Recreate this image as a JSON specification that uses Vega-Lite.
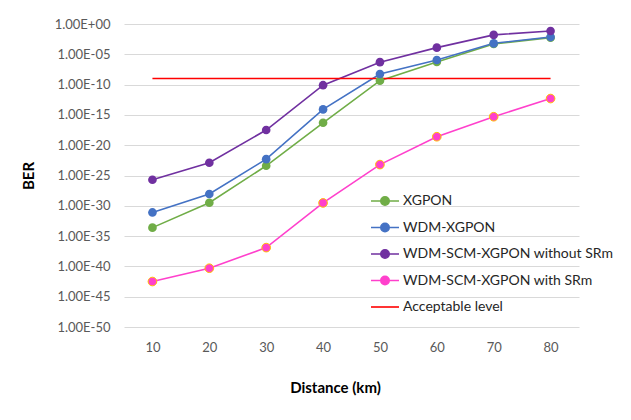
{
  "$schema": "https://vega.github.io/schema/vega-lite/v6.json",
  "width": 455,
  "height": 303,
  "autosize": {"type": "none"},
  "padding": {"left": 124, "top": 24, "right": 52, "bottom": 93},
  "background": "white",
  "config": {
    "view": {"stroke": null},
    "font": "Lato",
    "axis": {"labelFont": "Lato", "titleFont": "Lato"},
    "legend": {"labelFont": "Lato"}
  },
  "data": {
    "values": [
      {"series": "XGPON", "distance": 10, "ber": 2.5e-34},
      {"series": "XGPON", "distance": 20, "ber": 3.2e-30},
      {"series": "XGPON", "distance": 30, "ber": 4e-24},
      {"series": "XGPON", "distance": 40, "ber": 5e-17},
      {"series": "XGPON", "distance": 50, "ber": 4.5e-10},
      {"series": "XGPON", "distance": 60, "ber": 5.4e-7},
      {"series": "XGPON", "distance": 70, "ber": 5e-4},
      {"series": "XGPON", "distance": 80, "ber": 5.6e-3},
      {"series": "WDM-XGPON", "distance": 10, "ber": 8e-32},
      {"series": "WDM-XGPON", "distance": 20, "ber": 9e-29},
      {"series": "WDM-XGPON", "distance": 30, "ber": 5e-23},
      {"series": "WDM-XGPON", "distance": 40, "ber": 8e-15},
      {"series": "WDM-XGPON", "distance": 50, "ber": 5.6e-9},
      {"series": "WDM-XGPON", "distance": 60, "ber": 1.15e-6},
      {"series": "WDM-XGPON", "distance": 70, "ber": 6.5e-4},
      {"series": "WDM-XGPON", "distance": 80, "ber": 7e-3},
      {"series": "WDM-SCM-XGPON without SRm", "distance": 10, "ber": 2e-26},
      {"series": "WDM-SCM-XGPON without SRm", "distance": 20, "ber": 1.26e-23},
      {"series": "WDM-SCM-XGPON without SRm", "distance": 30, "ber": 3.2e-18},
      {"series": "WDM-SCM-XGPON without SRm", "distance": 40, "ber": 8e-11},
      {"series": "WDM-SCM-XGPON without SRm", "distance": 50, "ber": 5e-7},
      {"series": "WDM-SCM-XGPON without SRm", "distance": 60, "ber": 1.26e-4},
      {"series": "WDM-SCM-XGPON without SRm", "distance": 70, "ber": 1.6e-2},
      {"series": "WDM-SCM-XGPON without SRm", "distance": 80, "ber": 7e-2},
      {"series": "WDM-SCM-XGPON with SRm", "distance": 10, "ber": 3.2e-43},
      {"series": "WDM-SCM-XGPON with SRm", "distance": 20, "ber": 5e-41},
      {"series": "WDM-SCM-XGPON with SRm", "distance": 30, "ber": 1.26e-37},
      {"series": "WDM-SCM-XGPON with SRm", "distance": 40, "ber": 3e-30},
      {"series": "WDM-SCM-XGPON with SRm", "distance": 50, "ber": 6.3e-24},
      {"series": "WDM-SCM-XGPON with SRm", "distance": 60, "ber": 2.5e-19},
      {"series": "WDM-SCM-XGPON with SRm", "distance": 70, "ber": 5e-16},
      {"series": "WDM-SCM-XGPON with SRm", "distance": 80, "ber": 5e-13},
      {"series": "Acceptable level", "distance": 10, "ber": 1e-9},
      {"series": "Acceptable level", "distance": 80, "ber": 1e-9}
    ]
  },
  "encoding": {
    "x": {
      "field": "distance",
      "type": "ordinal",
      "sort": [10, 20, 30, 40, 50, 60, 70, 80],
      "scale": {"type": "point", "padding": 0.5, "domain": [10, 20, 30, 40, 50, 60, 70, 80]},
      "axis": {
        "title": "Distance (km)",
        "labelAngle": 0,
        "domain": false,
        "ticks": false,
        "grid": false,
        "labelPadding": 14,
        "labelFontSize": 13,
        "labelColor": "#595959",
        "titleFontSize": 15,
        "titleFontWeight": "bold",
        "titleColor": "#000000",
        "titleX": 211,
        "titleY": 60,
        "titleBaseline": "middle"
      }
    },
    "y": {
      "field": "ber",
      "type": "quantitative",
      "scale": {"type": "log", "domain": [1e-50, 1], "nice": false},
      "axis": {
        "title": "BER",
        "values": [1, 1e-5, 1e-10, 1e-15, 1e-20, 1e-25, 1e-30, 1e-35, 1e-40, 1e-45, 1e-50],
        "labelExpr": "'1.00E' + (round(log(datum.value)/LN10) >= 0 ? '+' : '-') + (abs(round(log(datum.value)/LN10)) < 10 ? '0' : '') + abs(round(log(datum.value)/LN10))",
        "domain": false,
        "ticks": false,
        "grid": true,
        "gridColor": "#D9D9D9",
        "gridWidth": 1,
        "labelPadding": 14,
        "labelFontSize": 13,
        "labelColor": "#595959",
        "titleFontSize": 15,
        "titleFontWeight": "bold",
        "titleColor": "#000000",
        "titleX": -96,
        "titleBaseline": "middle"
      }
    },
    "color": {
      "field": "series",
      "type": "nominal",
      "scale": {
        "domain": ["XGPON", "WDM-XGPON", "WDM-SCM-XGPON without SRm", "WDM-SCM-XGPON with SRm", "Acceptable level"],
        "range": ["#70AD47", "#4472C4", "#7030A0", "#FF40CC", "#FF0000"]
      },
      "legend": {
        "title": null,
        "orient": "none",
        "legendX": 246,
        "legendY": 162,
        "padding": 0,
        "symbolSize": 784,
        "symbolStrokeWidth": 1.6,
        "symbolType": "M-1,0L1,0M-0.3,0a0.3,0.3 0 1,0 0.6,0a0.3,0.3 0 1,0 -0.6,0",
        "labelFontSize": 14,
        "labelLimit": 400,
        "labelColor": "#262626",
        "labelOffset": 3,
        "rowPadding": 3.5,
        "encode": {
          "symbols": {
            "update": {
              "fill": {"scale": "color", "field": "value"},
              "stroke": {"scale": "color", "field": "value"},
              "shape": {"signal": "datum.value === 'Acceptable level' ? 'M-1,0L1,0' : 'M-1,0L1,0M-0.3,0a0.3,0.3 0 1,0 0.6,0a0.3,0.3 0 1,0 -0.6,0'"}
            }
          }
        }
      }
    }
  },
  "layer": [
    {
      "mark": {"type": "line", "strokeWidth": 1.6},
      "encoding": {"detail": {"field": "series"}}
    },
    {
      "transform": [{"filter": "datum.series !== 'Acceptable level'"}],
      "mark": {"type": "point", "filled": true, "size": 75, "opacity": 1},
      "encoding": {
        "stroke": {
          "condition": {"test": "datum.series === 'WDM-SCM-XGPON with SRm'", "value": "#FFC000"},
          "value": "transparent"
        },
        "strokeWidth": {"value": 1}
      }
    }
  ]
}
